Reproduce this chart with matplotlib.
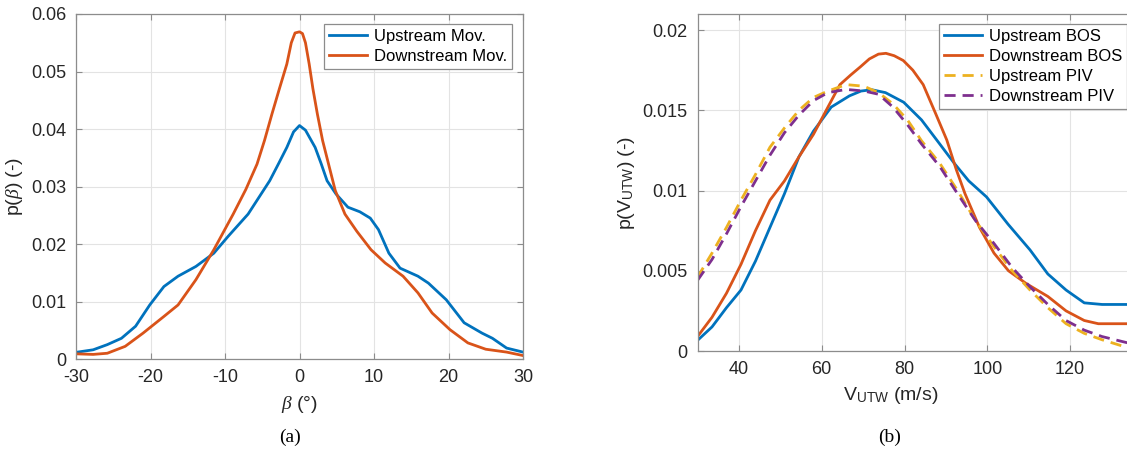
import numpy as np
import matplotlib
matplotlib.use("Agg")
import matplotlib.pyplot as plt
from matplotlib.ticker import FuncFormatter

plt.rcParams['font.family'] = ['Liberation Sans', 'DejaVu Sans']
plt.rcParams['mathtext.fontset'] = 'custom'
plt.rcParams['mathtext.rm'] = 'Liberation Sans'
plt.rcParams['mathtext.it'] = 'Liberation Serif:italic'
plt.rcParams['axes.unicode_minus'] = False

# (a) angle distribution
beta_up = [-30, -27.7, -25.8, -23.9, -22, -20.1, -18.2, -16.3, -13.9, -11.5, -9.6, -6.9, -4.0,
           -2.8, -1.7, -0.8, 0, 0.8, 2.1, 2.9, 3.7, 4.9, 6.5, 8.1, 9.5, 10.6, 12.0, 13.5,
           15.9, 17.3, 19.7, 22.1, 24.5, 25.9, 27.8, 30]
p_up = [0.00116, 0.0016, 0.0025, 0.0036, 0.0057, 0.0094, 0.0126, 0.0144, 0.0161, 0.0184, 0.0213,
        0.0252, 0.031, 0.034, 0.0368, 0.0395, 0.0406, 0.0398, 0.0368, 0.034, 0.031, 0.0287,
        0.0264, 0.0256, 0.0245, 0.0225, 0.0184, 0.0158, 0.0144, 0.0132, 0.0103, 0.0063, 0.0045,
        0.0036, 0.0019, 0.0012]
beta_down = [-30, -27.7, -25.8, -23.4, -21, -18.2, -16.3, -13.9, -11.5, -8.9, -7.2, -5.7, -4.7,
             -3.7, -2.7, -1.7, -1.1, -0.6, 0, 0.4, 0.8, 1.3, 1.8, 2.4, 3.1, 3.9, 4.8, 6.1, 7.7,
             9.6, 11.5, 13.9, 15.9, 17.8, 20.2, 22.6, 25, 27.8, 30]
p_down = [0.0009, 0.0008, 0.001, 0.0022, 0.0045, 0.0074, 0.0094, 0.0138, 0.019, 0.0252, 0.0295,
          0.0339, 0.038, 0.0426, 0.047, 0.0513, 0.055, 0.0567, 0.0569, 0.0566, 0.055, 0.0513,
          0.047, 0.0426, 0.038, 0.0339, 0.0293, 0.0252, 0.0222, 0.019, 0.0167, 0.0144, 0.0115,
          0.008, 0.0051, 0.0028, 0.0017, 0.0012, 0.0006]

# (b) velocity distribution
v_bos_up = [30, 33.5, 37, 40.5, 44, 47.5, 51, 54.5, 58, 62.3, 66.7, 69.5, 72.1, 75.4, 79.8, 84.1,
            88.5, 92, 95.5, 99.8, 105, 110.3, 114.6, 119, 123.4, 127.7, 134]
p_bos_up = [0.00066, 0.0015, 0.0027, 0.0038, 0.0056, 0.0077, 0.0098, 0.0121, 0.0137, 0.0152,
            0.0159, 0.0162, 0.01628, 0.0161, 0.0155, 0.0144, 0.0129, 0.0117, 0.0106, 0.0096,
            0.0079, 0.0063, 0.0048, 0.0038, 0.003, 0.0029, 0.0029]
v_bos_down = [30, 33.5, 37, 40.5, 44, 47.5, 51, 54.5, 58, 61.5, 64.4, 67, 69.3, 71.5, 73.7,
              75.5, 77.5, 79.7, 82, 84.5, 87.5, 90.2, 92.5, 94.6, 98.1, 101.6, 105.1, 109.4,
              114.6, 119, 123.4, 126.8, 134]
p_bos_down = [0.0009, 0.0021, 0.0036, 0.0054, 0.0075, 0.0094, 0.0106, 0.0121, 0.0135, 0.0152,
              0.0166, 0.0172, 0.0177, 0.0182, 0.0185, 0.01855, 0.0184, 0.0181, 0.0175, 0.0166,
              0.0148, 0.01315, 0.0113, 0.0098, 0.0077, 0.0061, 0.005, 0.0042, 0.0034, 0.0025,
              0.0019, 0.0017, 0.0017]
v_piv = [30, 33.5, 37, 40.5, 44, 47.5, 51, 54.5, 58, 61.5, 65.9, 70.2, 73.7, 77.2, 80.7, 84.1,
         88.5, 92.8, 97.2, 101.6, 106, 110.3, 114.6, 119, 123.4, 127.7, 134]
p_piv_up = [0.0046, 0.0061, 0.0077, 0.0094, 0.011, 0.0127, 0.0139, 0.015, 0.0158, 0.0162,
            0.0166, 0.0165, 0.0161, 0.0154, 0.0144, 0.0131, 0.0117, 0.01, 0.0081, 0.0065,
            0.005, 0.0038, 0.0027, 0.0017, 0.0011, 0.0007, 0.0002]
p_piv_down = [0.0044, 0.0057, 0.0073, 0.009, 0.0106, 0.0122, 0.0136, 0.0147, 0.0156, 0.0161,
              0.0163, 0.0162, 0.016, 0.0152, 0.0141, 0.0129, 0.0115, 0.0098, 0.0081, 0.0067,
              0.0052, 0.004, 0.0029, 0.0019, 0.0013, 0.0009, 0.0005]

blue, orange, yellow, purple = '#0072BD', '#D95319', '#EDB120', '#7E2F8E'
W, H = 1127, 453


def style(ax):
    ax.grid(True, color='#e3e3e3', lw=0.8)
    ax.set_axisbelow(True)
    for s in ax.spines.values():
        s.set_color('#8c8c8c')
        s.set_linewidth(0.9)
    ax.tick_params(direction='in', length=4, width=0.8, color='#8c8c8c',
                   labelsize=13, labelcolor='#262626', top=True, right=True, pad=7)
    ax.yaxis.set_major_formatter(FuncFormatter(lambda v, p: '%g' % round(v, 4)))


def legend(ax, x, loc):
    leg = ax.legend(loc=loc, bbox_to_anchor=(x / W, 1 - 24 / H),
                    bbox_transform=fig.transFigure, fontsize=12, fancybox=False,
                    framealpha=1, edgecolor='#8c8c8c', handlelength=2.3,
                    borderpad=0.3, labelspacing=0.3, handletextpad=0.4, borderaxespad=0)
    leg.get_frame().set_linewidth(0.9)


fig = plt.figure(figsize=(W / 100, H / 100), dpi=100)

# left panel
ax1 = fig.add_axes([76 / W, 1 - 359 / H, (523 - 76) / W, (359 - 14) / H])
ax1.plot(beta_up, p_up, color=blue, lw=2, label='Upstream Mov.')
ax1.plot(beta_down, p_down, color=orange, lw=2, label='Downstream Mov.')
ax1.set_xlim(-30, 30)
ax1.set_ylim(0, 0.06)
ax1.set_xticks(np.arange(-30, 31, 10))
ax1.set_yticks(np.arange(0, 0.061, 0.01))
style(ax1)
ax1.set_xlabel(r'$\beta$ (°)', fontsize=14, color='#262626', labelpad=6)
ax1.set_ylabel(r'p($\beta$) (-)', fontsize=14, color='#262626', labelpad=4)
legend(ax1, 512, 'upper right')

# right panel, wider than the figure so the right edge is cut off
ax2 = fig.add_axes([697.5 / W, 1 - 351 / H, (1153 - 697.5) / W, (351 - 14) / H])
ax2.plot(v_bos_up, p_bos_up, color=blue, lw=2, label='Upstream BOS')
ax2.plot(v_bos_down, p_bos_down, color=orange, lw=2, label='Downstream BOS')
ax2.plot(v_piv, p_piv_up, color=yellow, lw=2, ls=(0, (4, 2.5)), label='Upstream PIV')
ax2.plot(v_piv, p_piv_down, color=purple, lw=2, ls=(0, (4, 2.5)), label='Downstream PIV')
ax2.set_xlim(30, 140)
ax2.set_ylim(0, 0.021)
ax2.set_xticks(np.arange(40, 121, 20))
ax2.set_yticks([0, 0.005, 0.01, 0.015, 0.02])
style(ax2)
ax2.set_xlabel(r'V$_{\mathrm{UTW}}$ (m/s)', fontsize=14, color='#262626', labelpad=6)
ax2.set_ylabel(r'p(V$_{\mathrm{UTW}}$) (-)', fontsize=14, color='#262626', labelpad=4)
ax2.xaxis.set_label_coords((891 - 697.5) / (1153 - 697.5), -0.1)
legend(ax2, 939, 'upper left')

fig.text(290 / W, 1 - 437 / H, '(a)', family='Liberation Serif', fontsize=14,
         ha='center', va='center')
fig.text(890 / W, 1 - 437 / H, '(b)', family='Liberation Serif', fontsize=14,
         ha='center', va='center')

fig.savefig('out.png', dpi=100)
